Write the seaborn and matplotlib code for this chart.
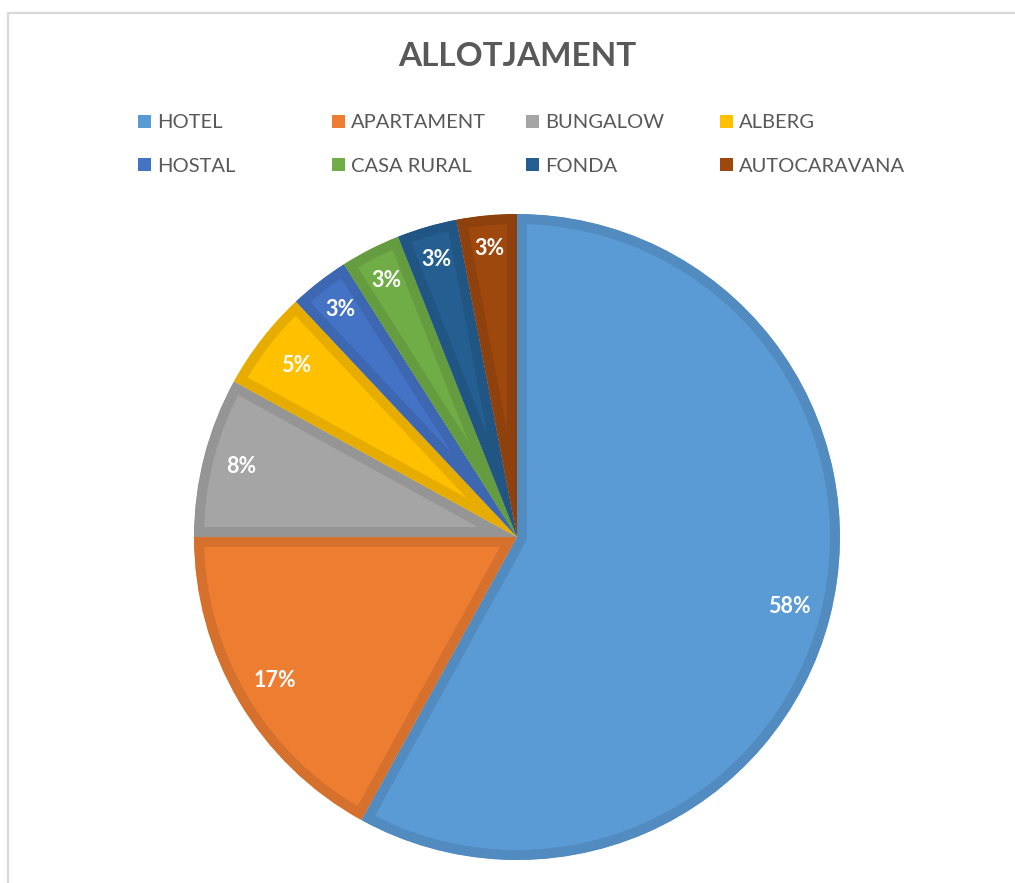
import matplotlib
matplotlib.use("Agg")
import matplotlib.pyplot as plt
from matplotlib.patches import Patch
from matplotlib.lines import Line2D
import seaborn as sns

# ---- data ----
categories = ["HOTEL", "APARTAMENT", "BUNGALOW", "ALBERG",
              "HOSTAL", "CASA RURAL", "FONDA", "AUTOCARAVANA"]
shares = [58, 17, 8, 5, 3, 3, 3, 3]
title = "ALLOTJAMENT"

# ---- style ----
sns.set_theme(style="white")
plt.rcParams["font.family"] = ["Lato", "DejaVu Sans"]
palette = sns.color_palette(["#5B9BD5", "#ED7D31", "#A5A5A5", "#FFC000",
                             "#4472C4", "#70AD47", "#255E91", "#9E480E"])
edge_cols = [tuple(c * 0.9 for c in col) for col in palette]
TEXT_GREY = "#595959"
# radial scale applied to each data label (Excel "best fit" placement)
label_scale = [1.0, 1.0, 1.015, 0.995, 1.025, 1.025, 1.03, 1.03]

W, H = 1015, 883
fig = plt.figure(figsize=(W / 100, H / 100), dpi=100)
fig.patch.set_facecolor("white")

# chart-area border (left and top visible)
fig.add_artist(Line2D([8 / W, 8 / W], [0, 1 - 13 / H], transform=fig.transFigure,
                      color="#d9d9d9", lw=1.6))
fig.add_artist(Line2D([8 / W, 1], [1 - 13 / H, 1 - 13 / H], transform=fig.transFigure,
                      color="#d9d9d9", lw=1.6))

# pie axes: centre (517, 537) px, radius 323 px
cx, cy, r = 517, 537, 323
ax = fig.add_axes([(cx - r) / W, (H - cy - r) / H, 2 * r / W, 2 * r / H])
wedges, _, autotexts = ax.pie(
    shares, colors=palette, startangle=90, counterclock=False,
    autopct="%1.0f%%", pctdistance=0.87,
    textprops=dict(color="white", fontsize=15.5, fontweight="bold"),
    wedgeprops=dict(linewidth=14.4, joinstyle="miter"),
)
for w, ec in zip(wedges, edge_cols):
    w.set_edgecolor(ec)
    w.set_clip_path(w)
    w.set_clip_on(True)
for t, s in zip(autotexts, label_scale):
    x, y = t.get_position()
    t.set_position((x * s, y * s))
ax.set_xlim(-1, 1)
ax.set_ylim(-1, 1)
ax.axis("off")

# title
fig.text(517 / W, 1 - 57 / H, title, ha="center", va="center",
         fontsize=24, fontweight="bold", color=TEXT_GREY)

# legend: 4 columns, 2 rows
col_x = [138, 332, 526, 720]
fs = 14.5
for i, x in enumerate(col_x):
    idx = [i, i + 4]
    handles = [Patch(facecolor=palette[j], edgecolor="none") for j in idx]
    labels = [categories[j] for j in idx]
    fig.legend(handles, labels, loc="center left",
               bbox_to_anchor=(x / W, 1 - 144.5 / H), frameon=False,
               fontsize=fs, handlelength=0.66, handleheight=0.66,
               handletextpad=0.3, labelspacing=1.3, borderpad=0,
               borderaxespad=0, labelcolor=TEXT_GREY)

fig.savefig("out.png", dpi=100, facecolor="white")
